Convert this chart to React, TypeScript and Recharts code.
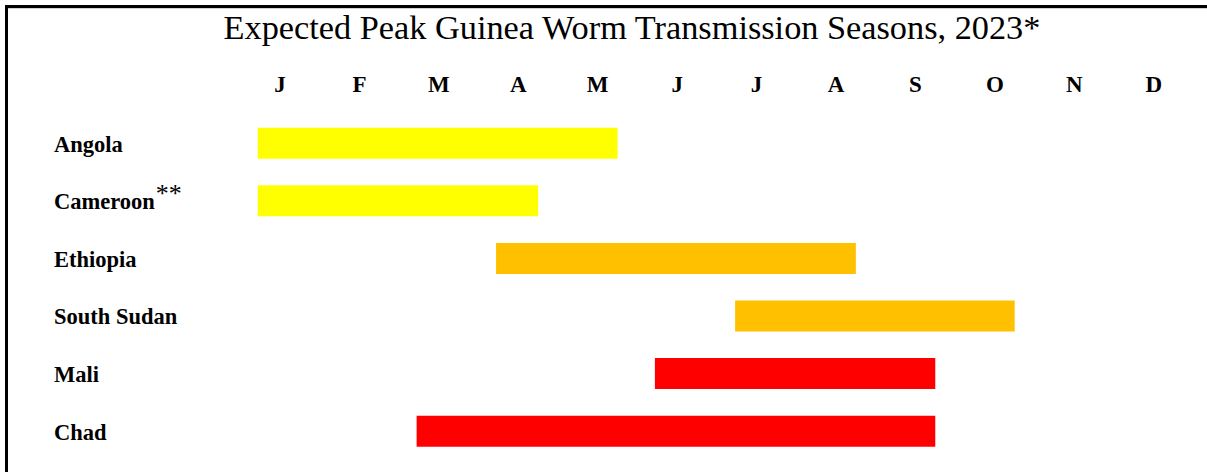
import { Bar, BarChart, Cell, XAxis, YAxis } from "recharts";

// countries, top to bottom
const countries = ["Angola", "Cameroon", "Ethiopia", "South Sudan", "Mali", "Chad"];
// peak season start / end, in month units (1 = Jan centre)
const seasonStart = [0.72, 0.72, 3.72, 6.73, 5.72, 2.72];
const seasonEnd = [5.25, 4.25, 8.25, 10.25, 9.25, 9.25];
const barColors = ["#FFFF00", "#FFFF00", "#FFC000", "#FFC000", "#FF0000", "#FF0000"];
const monthTicks = [1, 2, 3, 4, 5, 6, 7, 8, 9, 10, 11, 12];
const monthLabels = ["J", "F", "M", "A", "M", "J", "J", "A", "S", "O", "N", "D"];
const footnoted = ["Cameroon"];

const SERIF = "'Liberation Serif', 'Times New Roman', serif";

const chartData = countries.map((name, i) => ({
  name,
  season: [seasonStart[i], seasonEnd[i]],
  color: barColors[i],
}));

const MonthTick = ({ x, y, payload }: any) => {
  const idx = monthTicks.indexOf(payload?.value);
  return (
    <text
      x={x}
      y={y - 23}
      textAnchor="middle"
      fontFamily={SERIF}
      fontWeight="bold"
      fontSize={23}
      fill="#000"
    >
      {monthLabels[idx] ?? ""}
    </text>
  );
};

const CountryTick = ({ y, payload }: any) => {
  const name = payload?.value;
  return (
    <text x={54} y={y + 8} fontFamily={SERIF} fontWeight="bold" fontSize={22.5} fill="#000">
      {name}
      {footnoted.includes(name) && (
        <tspan fontWeight="normal" fontSize={26} dy={-7} dx={1}>
          **
        </tspan>
      )}
    </text>
  );
};

export default function App() {
  return (
    <div style={{ position: "absolute", left: 0, top: 0, width: 1207, height: 472, background: "#fff", overflow: "hidden" }}>
      {/* frame: thick black top and left edge */}
      <div style={{ position: "absolute", left: 5, top: 5, width: 1202, height: 3, background: "#000" }} />
      <div style={{ position: "absolute", left: 5, top: 8, width: 1202, height: 1, background: "#cfcfcf" }} />
      <div style={{ position: "absolute", left: 5, top: 5, width: 3, height: 467, background: "#000" }} />

      <svg width={1207} height={60} style={{ position: "absolute", left: 0, top: 0 }}>
        <text x={632} y={39} textAnchor="middle" fontFamily={SERIF} fontSize={34.3} fill="#000">
          Expected Peak Guinea Worm Transmission Seasons, 2023*
        </text>
      </svg>

      <div style={{ position: "absolute", left: 0, top: 0 }}>
        <BarChart
          width={1207}
          height={472}
          data={chartData}
          layout="vertical"
          margin={{ top: 74.7, right: 13.6, bottom: 11.7, left: 0 }}
        >
          <XAxis
            type="number"
            orientation="top"
            domain={[0.5, 12.5]}
            ticks={monthTicks}
            allowDataOverflow
            axisLine={false}
            tickLine={false}
            tickSize={0}
            tickMargin={0}
            height={40}
            interval={0}
            tick={<MonthTick />}
          />
          <YAxis
            type="category"
            dataKey="name"
            width={240.3}
            axisLine={false}
            tickLine={false}
            interval={0}
            tick={<CountryTick />}
          />
          <Bar dataKey="season" barSize={31} isAnimationActive={false}>
            {chartData.map((entry, index) => (
              <Cell key={`cell-${index}`} fill={entry.color} />
            ))}
          </Bar>
        </BarChart>
      </div>
    </div>
  );
}
